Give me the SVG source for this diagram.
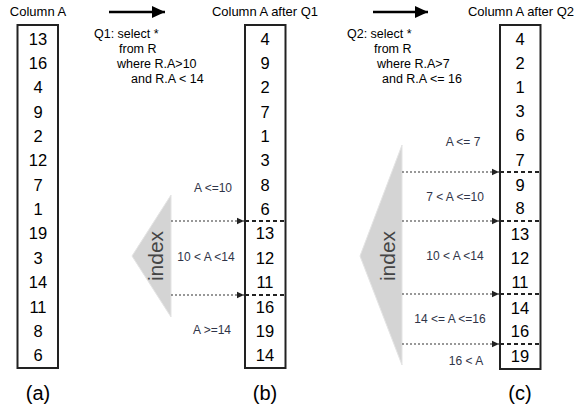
<svg xmlns="http://www.w3.org/2000/svg" width="578" height="414" viewBox="0 0 578 414">
<defs>
<style>
.t{font-family:"Liberation Sans",Arial,sans-serif;fill:#000}
.num{font-size:16.5px;text-anchor:middle}
.ttl{font-size:13px;text-anchor:middle}
.q{font-size:12.5px}
.lbl{font-family:"Liberation Sans",Arial,sans-serif;font-size:12px;fill:#2f3448;text-anchor:middle}
.cap{font-family:"Liberation Sans",Arial,sans-serif;font-size:20px;text-anchor:middle;fill:#000}
.box{fill:#fff;stroke:#222;stroke-width:2}
.sep{stroke:#222;stroke-width:2;stroke-dasharray:4,3}
.dot{stroke:#333;stroke-width:1.2;stroke-dasharray:2,2;fill:none}
.tri{fill:#d4d4d4;stroke:#e4e4e4;stroke-width:1}
.idx{font-family:"Liberation Sans",Arial,sans-serif;font-size:21px;fill:#444;text-anchor:middle}
</style>
<marker id="ah" markerWidth="8" markerHeight="8" refX="7" refY="4" orient="auto" markerUnits="userSpaceOnUse">
<path d="M0,0.8 L7,4 L0,7.2 z" fill="#222"/>
</marker>
<marker id="big" markerWidth="14" markerHeight="12" refX="13" refY="6" orient="auto" markerUnits="userSpaceOnUse">
<path d="M0,0 L13,6 L0,12 z" fill="#000"/>
</marker>
</defs>

<g id="colA">
<text class="t ttl" x="38" y="16">Column A</text>
<rect class="box" x="17.5" y="25" width="40.5" height="343"/>
<text class="t num" x="38" y="45">13</text>
<text class="t num" x="38" y="69">16</text>
<text class="t num" x="38" y="93">4</text>
<text class="t num" x="38" y="118">9</text>
<text class="t num" x="38" y="142">2</text>
<text class="t num" x="38" y="166">12</text>
<text class="t num" x="38" y="191">7</text>
<text class="t num" x="38" y="215">1</text>
<text class="t num" x="38" y="239">19</text>
<text class="t num" x="38" y="264">3</text>
<text class="t num" x="38" y="288">14</text>
<text class="t num" x="38" y="313">11</text>
<text class="t num" x="38" y="337">8</text>
<text class="t num" x="38" y="361">6</text>
</g>

<g id="q1">
<text class="t q" x="94" y="38">Q1: select *</text>
<text class="t q" x="119" y="53">from R</text>
<text class="t q" x="117" y="68">where R.A&gt;10</text>
<text class="t q" x="131" y="83">and R.A &lt; 14</text>
</g>

<g id="colB">
<text class="t ttl" x="265" y="16">Column A after Q1</text>
<rect class="box" x="245" y="25" width="40.5" height="343"/>
<line class="sep" x1="245" y1="221" x2="285.5" y2="221"/>
<line class="sep" x1="245" y1="295" x2="285.5" y2="295"/>
<text class="t num" x="265" y="45">4</text>
<text class="t num" x="265" y="69">9</text>
<text class="t num" x="265" y="93">2</text>
<text class="t num" x="265" y="118">7</text>
<text class="t num" x="265" y="142">1</text>
<text class="t num" x="265" y="166">3</text>
<text class="t num" x="265" y="191">8</text>
<text class="t num" x="265" y="215">6</text>
<text class="t num" x="265" y="239">13</text>
<text class="t num" x="265" y="264">12</text>
<text class="t num" x="265" y="288">11</text>
<text class="t num" x="265" y="313">16</text>
<text class="t num" x="265" y="337">19</text>
<text class="t num" x="265" y="361">14</text>
</g>

<g id="indexB">
<polygon class="tri" points="171,195 132,256 171,317"/>
<text class="idx" transform="translate(163,256) rotate(-90)">index</text>
</g>

<g id="q2">
<text class="t q" x="347" y="38">Q2: select *</text>
<text class="t q" x="374" y="53">from R</text>
<text class="t q" x="377" y="68">where R.A&gt;7</text>
<text class="t q" x="382" y="83">and R.A &lt;= 16</text>
</g>

<g id="colC">
<text class="t ttl" x="521" y="16">Column A after Q2</text>
<rect class="box" x="500" y="25" width="40.5" height="344"/>
<line class="sep" x1="500" y1="172" x2="540.5" y2="172"/>
<line class="sep" x1="500" y1="221" x2="540.5" y2="221"/>
<line class="sep" x1="500" y1="294" x2="540.5" y2="294"/>
<line class="sep" x1="500" y1="344" x2="540.5" y2="344"/>
<text class="t num" x="520" y="45">4</text>
<text class="t num" x="520" y="69">2</text>
<text class="t num" x="520" y="93">1</text>
<text class="t num" x="520" y="117">3</text>
<text class="t num" x="520" y="141">6</text>
<text class="t num" x="520" y="166">7</text>
<text class="t num" x="520" y="191">9</text>
<text class="t num" x="520" y="214">8</text>
<text class="t num" x="520" y="240">13</text>
<text class="t num" x="520" y="264">12</text>
<text class="t num" x="520" y="288">11</text>
<text class="t num" x="520" y="314">14</text>
<text class="t num" x="520" y="337">16</text>
<text class="t num" x="520" y="362">19</text>
</g>

<g id="indexC">
<polygon class="tri" points="402,145 360,256 402,365"/>
<text class="idx" transform="translate(395,256) rotate(-90)">index</text>
</g>

<g id="connectors">
<line x1="109" y1="12" x2="165" y2="12" stroke="#000" stroke-width="2.5" marker-end="url(#big)"/>
<line x1="373" y1="12" x2="428" y2="12" stroke="#000" stroke-width="2.5" marker-end="url(#big)"/>
<line class="dot" x1="171" y1="221" x2="244" y2="221" marker-end="url(#ah)"/>
<line class="dot" x1="171" y1="295" x2="244" y2="295" marker-end="url(#ah)"/>
<line class="dot" x1="402" y1="172" x2="499" y2="172" marker-end="url(#ah)"/>
<line class="dot" x1="402" y1="221" x2="499" y2="221" marker-end="url(#ah)"/>
<line class="dot" x1="402" y1="294" x2="499" y2="294" marker-end="url(#ah)"/>
<line class="dot" x1="402" y1="344" x2="499" y2="344" marker-end="url(#ah)"/>
</g>

<g id="labels">
<text class="lbl" x="213" y="192">A &lt;=10</text>
<text class="lbl" x="206" y="261">10 &lt; A &lt;14</text>
<text class="lbl" x="212" y="334">A &gt;=14</text>
<text class="lbl" x="463" y="146">A &lt;= 7</text>
<text class="lbl" x="455" y="201">7 &lt; A &lt;=10</text>
<text class="lbl" x="455" y="260">10 &lt; A &lt;14</text>
<text class="lbl" x="450" y="323">14 &lt;= A &lt;=16</text>
<text class="lbl" x="466" y="365">16 &lt; A</text>
</g>

<g id="captions">
<text class="cap" x="38" y="400">(a)</text>
<text class="cap" x="265" y="400">(b)</text>
<text class="cap" x="520" y="400">(c)</text>
</g>
</svg>
